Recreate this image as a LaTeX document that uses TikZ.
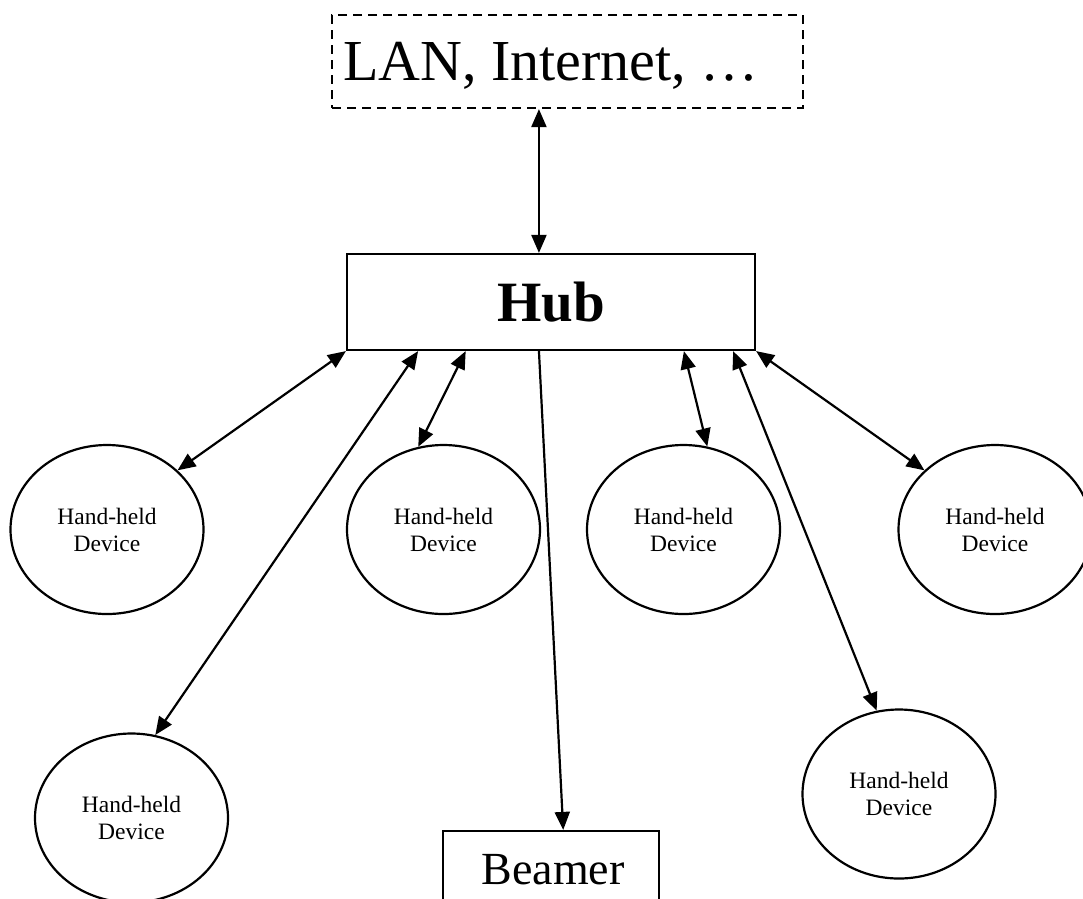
\documentclass[tikz,border=0pt]{standalone}
\usepackage{fontspec}
\setmainfont{Liberation Serif}
\usetikzlibrary{arrows.meta,shapes.geometric,calc}

\begin{document}
\begin{tikzpicture}[x=1pt,y=-1pt,
  line width=2.2pt,
  device/.style={draw, ellipse, minimum width=193pt, minimum height=169pt,
    inner sep=0pt, align=center, font=\fontsize{23.5}{27}\selectfont},
  box/.style={draw, rectangle, inner sep=0pt},
  link/.style={{Triangle[length=18pt,width=15pt]}-{Triangle[length=18pt,width=15pt]}},
  feed/.style={-{Triangle[length=18pt,width=15pt]}}
]
\useasboundingbox (0,0) rectangle (1083,898);
\clip (0,0) rectangle (1083,898);

% network cloud box
\node[box, dash pattern=on 9pt off 6pt, minimum width=471pt, minimum height=93pt] (net) at (567.5,61.5) {};
\node[anchor=base west, inner sep=0pt, font=\fontsize{58}{68}\selectfont] (nettext) at (342,80) {LAN, Internet, …};

% hub
\node[box, minimum width=408pt, minimum height=96pt, font=\fontsize{57}{66}\selectfont\bfseries] (hub) at (551,302) {Hub};

% beamer
\node[box, minimum width=216pt, minimum height=100pt] (beamer) at (551,881) {};
\node[anchor=base, inner sep=0pt, font=\fontsize{46}{55}\selectfont] (beamertext) at (553,884) {Beamer};

% hand-held devices
\node[device] (d1) at (107,529.5) {Hand-held\\Device};
\node[device] (d2) at (131.5,818) {Hand-held\\Device};
\node[device] (d3) at (443.5,529.5) {Hand-held\\Device};
\node[device] (d4) at (683.5,529.5) {Hand-held\\Device};
\node[device] (d5) at (995,529.5) {Hand-held\\Device};
\node[device] (d6) at (899,794) {Hand-held\\Device};

% attachment points on the hub
\coordinate (htop) at ($(hub.north west)!0.4706!(hub.north east)$);
\coordinate (hb2) at ($(hub.south west)!0.176!(hub.south east)$);
\coordinate (hb3) at ($(hub.south west)!0.292!(hub.south east)$);
\coordinate (hb4) at ($(hub.south west)!0.4706!(hub.south east)$);
\coordinate (hb5) at ($(hub.south west)!0.824!(hub.south east)$);
\coordinate (hb6) at ($(hub.south west)!0.944!(hub.south east)$);
\coordinate (bin) at ($(beamer.north west)!0.556!(beamer.north east)$);

% connectors
\draw[link] (htop |- net.south) -- (htop);
\draw[link] (hub.south west) -- (d1.40);
\draw[link] (hb2) -- (d2.74);
\draw[link] (hb3) -- (d3.107);
\draw[feed] (hb4) -- (bin);
\draw[link] (hb5) -- (d4.74);
\draw[link] (hb6) -- (d6.105);
\draw[link] (hub.south east) -- (d5.140);
\end{tikzpicture}
\end{document}
